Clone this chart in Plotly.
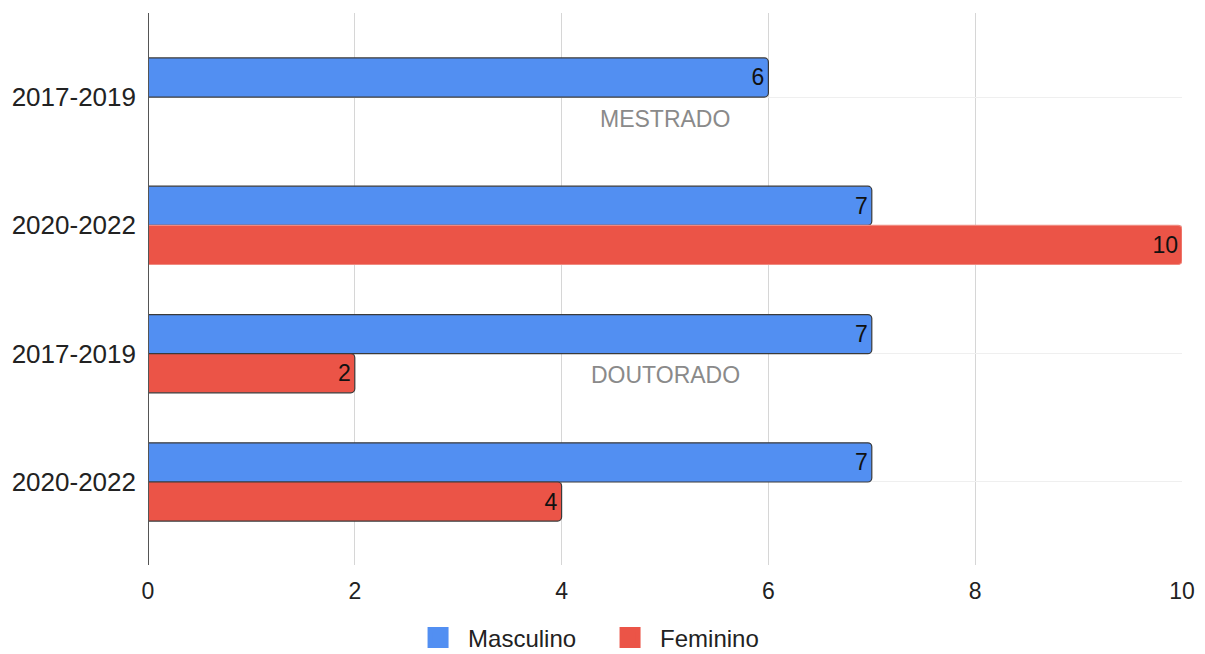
import plotly.graph_objects as go

# Data
periods = ["2017-2019", "2020-2022", "2017-2019", "2020-2022"]
levels = ["MESTRADO", "DOUTORADO"]
masculino = [6, 7, 7, 7]
feminino = [None, 10, 2, 4]
series_names = ["Masculino", "Feminino"]

BLUE = "#528ff2"
RED = "#eb5447"
EDGE = "#3a3a3a"
FONT = "Liberation Sans, Arial, sans-serif"

rows = list(range(len(periods)))

fig = go.Figure()
fig.add_trace(go.Bar(
    name=series_names[0], legendgroup="m", showlegend=False,
    y=rows, x=masculino, orientation="h",
    marker=dict(color=BLUE, line=dict(color=EDGE, width=1.2), cornerradius=4),
    text=masculino, textposition="inside", insidetextanchor="end",
    textfont=dict(color="#111", size=23),
))
fig.add_trace(go.Bar(
    name=series_names[1], legendgroup="f", showlegend=False,
    y=rows, x=feminino, orientation="h",
    marker=dict(color=RED,
                line=dict(color=[EDGE, "#f08a80", EDGE, EDGE], width=1.2),
                cornerradius=4),
    text=feminino, textposition="inside", insidetextanchor="end",
    textfont=dict(color="#111", size=23),
))

# Legend entries with larger square swatches
for name, color, grp in [(series_names[0], BLUE, "m"), (series_names[1], RED, "f")]:
    fig.add_trace(go.Scatter(
        x=[None], y=[None], mode="markers", name=name, legendgroup=grp,
        marker=dict(symbol="square", size=22, color=color,
                    line=dict(color=color, width=5)),
    ))

# Group labels below the first row of each level
for i, lvl in enumerate(levels):
    fig.add_annotation(x=5, y=rows[2 * i] + 0.17, xref="x", yref="y",
                       text=lvl, showarrow=False,
                       font=dict(color="#8a8a8a", size=23))

fig.update_layout(
    width=1205, height=654,
    margin=dict(l=148, r=23, t=13, b=89, autoexpand=False),
    paper_bgcolor="white", plot_bgcolor="white",
    barmode="group", bargap=0.39, bargroupgap=0,
    font=dict(family=FONT, color="#222"),
    showlegend=True,
    legend=dict(orientation="h", x=0.2515, xanchor="left", y=-0.132,
                yanchor="middle", font=dict(size=24, color="#222"),
                traceorder="normal", itemwidth=50,
                entrywidth=127, entrywidthmode="pixels"),
    xaxis=dict(range=[0, 10], tickvals=[0, 2, 4, 6, 8, 10],
               showgrid=True, gridcolor="#d6d6d6", gridwidth=1.2,
               zeroline=False, showline=False, ticks="",
               ticklabelstandoff=10, tickfont=dict(size=23, color="#222")),
    yaxis=dict(range=[3.647, -0.655], tickvals=rows, ticktext=periods,
               showgrid=True, gridcolor="#efefef", zeroline=False,
               showline=False, ticks="", ticklabelstandoff=11,
               tickfont=dict(size=26, color="#222")),
)

# Vertical baseline at x = 0
fig.add_shape(type="line", xref="x", yref="paper", x0=0, x1=0, y0=0, y1=1,
              line=dict(color="#555", width=2), layer="above")

fig.write_html("out.html")
